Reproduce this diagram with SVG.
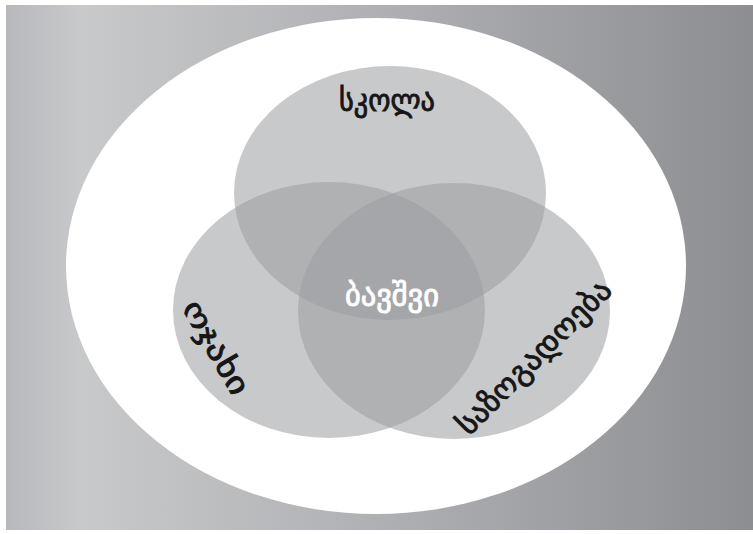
<svg xmlns="http://www.w3.org/2000/svg" width="753" height="534" viewBox="0 0 753 534">
  <defs>
    <linearGradient id="bg" x1="0" y1="0" x2="1" y2="0">
      <stop offset="0" stop-color="#b6b8bb"/>
      <stop offset="0.1" stop-color="#c7c9cb"/>
      <stop offset="0.55" stop-color="#abadb0"/>
      <stop offset="1" stop-color="#8c8e92"/>
    </linearGradient>
    <style>
      .set { fill: #9a9da1; fill-opacity: 0.55; }
      .lbl { font-family: "DejaVu Sans", "Noto Sans", sans-serif; font-size: 30px; text-anchor: middle; stroke-width: 0.9px; }
      .dark { fill: #161616; stroke: #161616; }
      .light { fill: #ffffff; stroke: #ffffff; }
    </style>
  </defs>

  <!-- page background -->
  <rect x="0" y="0" width="753" height="534" fill="#ffffff"/>
  <rect x="6" y="5" width="747" height="525" fill="url(#bg)"/>

  <!-- enclosing white ellipse -->
  <ellipse cx="376" cy="266" rx="310" ry="248" fill="#ffffff"/>

  <g id="school">
    <ellipse class="set" cx="390" cy="193" rx="156" ry="127"/>
    <text class="lbl dark" x="387" y="111" textLength="96" lengthAdjust="spacingAndGlyphs">სკოლა</text>
  </g>

  <g id="family">
    <ellipse class="set" cx="329" cy="310" rx="156" ry="128"/>
    <text class="lbl dark" transform="translate(215 348) rotate(60)" y="9" textLength="104" lengthAdjust="spacingAndGlyphs">ოჯახი</text>
  </g>

  <g id="society">
    <ellipse class="set" cx="454" cy="311" rx="156" ry="128"/>
    <text class="lbl dark" transform="translate(535 358) rotate(-45)" y="9" textLength="205" lengthAdjust="spacingAndGlyphs">საზოგადოება</text>
  </g>

  <g id="child">
    <text class="lbl light" x="392" y="306" textLength="94" lengthAdjust="spacingAndGlyphs">ბავშვი</text>
  </g>
</svg>
